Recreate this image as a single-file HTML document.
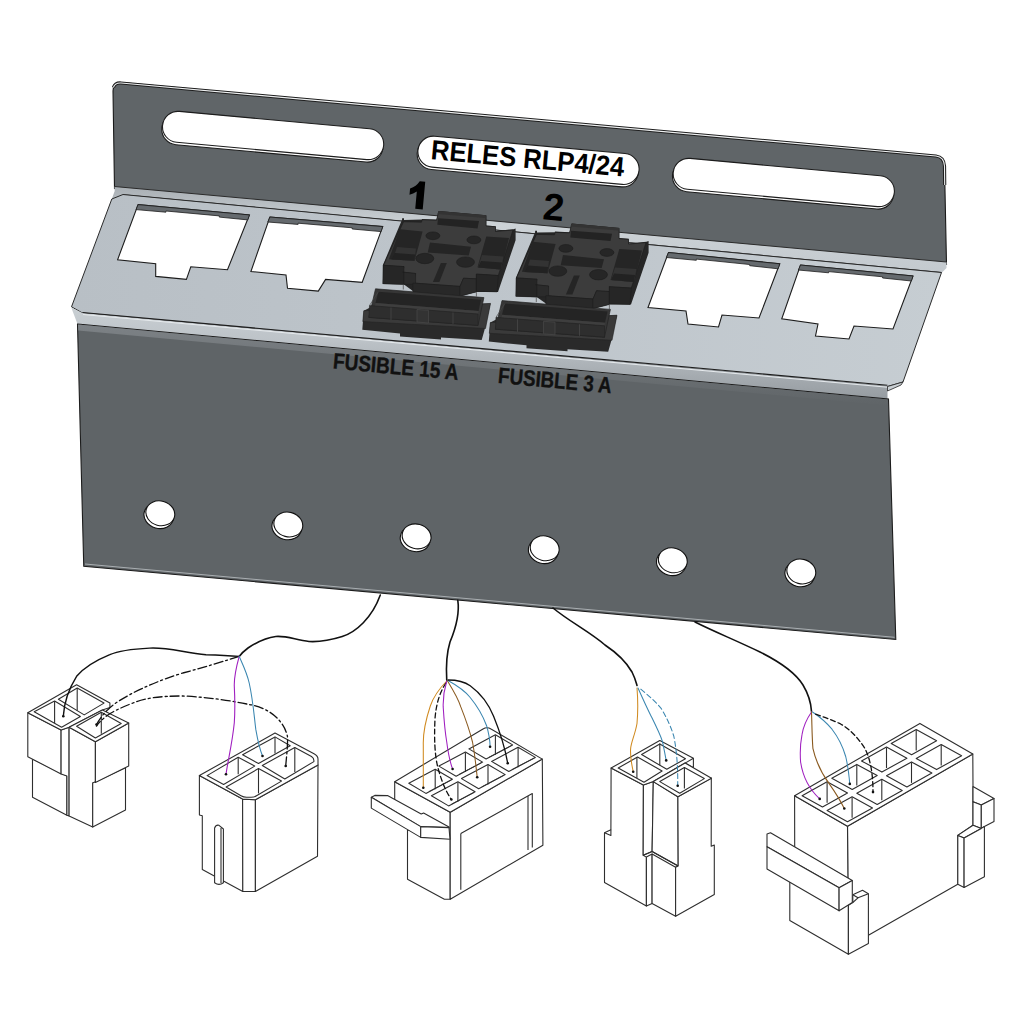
<!DOCTYPE html>
<html><head><meta charset="utf-8">
<style>
html,body{margin:0;padding:0;background:#fff;width:1024px;height:1024px;overflow:hidden}
svg{display:block}
text{font-family:"Liberation Sans",sans-serif;font-weight:bold}
</style></head><body>
<svg width="1024" height="1024" viewBox="0 0 1024 1024">
<defs>
<linearGradient id="shelfg" x1="0" y1="0" x2="1" y2="0"><stop offset="0" stop-color="#b8bfc5"/><stop offset="0.55" stop-color="#bfc6cc"/><stop offset="1" stop-color="#c6cdd2"/></linearGradient>
<linearGradient id="bend1" x1="0" y1="0" x2="0" y2="1"><stop offset="0" stop-color="#a9afb4"/><stop offset="0.45" stop-color="#ccd2d6"/><stop offset="1" stop-color="#c3c9ce"/></linearGradient>
<linearGradient id="bend2" x1="0" y1="0" x2="0" y2="1"><stop offset="0" stop-color="#c9cfd3"/><stop offset="0.35" stop-color="#bdc3c8"/><stop offset="1" stop-color="#969ca1"/></linearGradient>
<linearGradient id="pl2" x1="0" y1="0" x2="0" y2="1"><stop offset="0" stop-color="#7d8286"/><stop offset="1" stop-color="#5f6467"/></linearGradient>
</defs>
<!-- BACK PLATE -->
<g id="back">
<path d="M113,91 Q113,82 121.5,82.6 L936,156 Q944.5,157 944.5,166 L946.5,264.5 L114.5,188.5 Z" fill="#606568" stroke="#1a1a1a" stroke-width="1.1"/>
<path d="M113.4,87.5 Q115,82.6 121,83 L936,156 Q944,157 944.5,166 L944.7,185" stroke="#1e1e1e" stroke-width="3.2" fill="none"/>
<path d="M113.4,87.5 Q115,82.6 121,83 L936,156 Q944,157 944.5,166 L944.7,185" stroke="#eef0f1" stroke-width="1.1" fill="none"/>
<!-- bend strip -->
<path d="M114.5,186.5 L946.5,262 L946.5,268 L941.5,273 L111.8,199 L114.7,191 Z" fill="url(#bend1)"/>
<path d="M123,194.8 L941.5,272.5" stroke="#2a2a2a" stroke-width="1.1" fill="none"/>
<path d="M114.5,186.5 L946.5,262" stroke="#2a2a2a" stroke-width="1" fill="none"/>
<!-- slots -->
<g transform="translate(273.1,135.5) rotate(5.2)"><rect x="-111.5" y="-13" width="222" height="31" rx="15.5" fill="#fff" stroke="#1c1c1c" stroke-width="1.1"/><rect x="-111" y="-15.5" width="222" height="31" rx="15.5" fill="#fff" stroke="#1c1c1c" stroke-width="1.1"/></g>
<g transform="translate(783.8,182.5) rotate(5.2)"><rect x="-111.5" y="-13" width="222" height="31" rx="15.5" fill="#fff" stroke="#1c1c1c" stroke-width="1.1"/><rect x="-111" y="-15.5" width="222" height="31" rx="15.5" fill="#fff" stroke="#1c1c1c" stroke-width="1.1"/></g>
<g transform="translate(528.5,160.3) rotate(5.2)"><rect x="-111.5" y="-13" width="222" height="31" rx="15.5" fill="#fff" stroke="#1c1c1c" stroke-width="1.1"/><rect x="-111" y="-15.5" width="222" height="31" rx="15.5" fill="#fff" stroke="#1c1c1c" stroke-width="1.1"/><text x="-1" y="7.6" font-size="27.5" text-anchor="middle" fill="#000" textLength="194" lengthAdjust="spacingAndGlyphs">RELES RLP4/24</text></g>
<g transform="rotate(5.2 416 195)"><path d="M424,181 L424,208.8 L416.5,208.8 L416.5,191.5 Q413,194.2 409.5,195.3 L409.5,189 Q415.5,186.5 418.5,181 Z" fill="#000"/></g>
<text x="552.5" y="220.3" font-size="38" text-anchor="middle" fill="#000" transform="rotate(5.2 552.5 220.3)">2</text>
</g>
<!-- SHELF -->
<g id="shelf">
<path d="M123,194.5 L941.5,272.5 L903,382 L887.5,386.5 L82.5,313 L71.5,306.8 L111.8,199 Z" fill="url(#shelfg)" stroke="#2a2a2a" stroke-width="1"/>
<!-- RJ holes -->
<path d="M138.1,204.6 L249.4,214.9 L227.5,269.7 L190.8,266.8 L186.4,279.4 L155.7,276.4 L155.7,263.8 L117.6,259.7 Z" fill="#fff" stroke="#1c1c1c" stroke-width="1.1"/>
<path d="M269.9,217 L382.7,226.6 L362.2,282.3 L325.6,279.4 L318.3,291.1 L287.5,288.2 L286,275 L250.9,271.5 Z" fill="#fff" stroke="#1c1c1c" stroke-width="1.1"/>
<path d="M668.5,252.5 L779.75,263.75 L759,318 L722,315 L718.5,327 L688,324 L686,311 L648,307.5 Z" fill="#fff" stroke="#1c1c1c" stroke-width="1.1"/>
<path d="M800.5,265 L913,276 L893,329 L854,326 L849,339 L815.5,336 L818,324 L781.75,318.75 Z" fill="#fff" stroke="#1c1c1c" stroke-width="1.1"/>
<path d="M138.1,204.6 L249.4,214.9 L247.8,219.9 L219.3,217.1 L219.3,215.9 L165.9,211.0 L165.9,212.2 L136.0,209.6 Z" fill="#656a6e" stroke="#1c1c1c" stroke-width="0.8"/>
<path d="M269.9,217.0 L382.7,226.6 L381.1,231.6 L352.2,229.0 L352.2,227.8 L298.1,223.2 L298.1,224.4 L267.8,222.0 Z" fill="#656a6e" stroke="#1c1c1c" stroke-width="0.8"/>
<path d="M668.5,252.5 L779.8,263.8 L778.1,268.8 L749.7,265.7 L749.7,264.5 L696.3,259.1 L696.3,260.3 L666.4,257.5 Z" fill="#656a6e" stroke="#1c1c1c" stroke-width="0.8"/>
<path d="M800.5,265.0 L913.0,276.0 L911.4,281.0 L882.6,278.0 L882.6,276.8 L828.6,271.6 L828.6,272.8 L798.4,270.0 Z" fill="#656a6e" stroke="#1c1c1c" stroke-width="0.8"/>
</g>

<g id="relay1" stroke-linejoin="round">
<path d="M438.7,211 L486.3,215.3 L486.3,225.5 L495.8,226.2 L495.8,231 L513.4,229.2 L515.6,228.4 L515.6,240.2 L498,291.9 L476.4,292 L460,296.5 L412.9,292.3 L412.9,291 L404,284.6 L382.8,284 L382.8,265.3 L402.1,219.6 L402.1,218.2 L404,218.2 L404,220 L421.9,219.6 L421.9,219 L436.5,219.6 Z" fill="#262626"/>
<path d="M403.5,221.8 L421.5,222.2 L422.2,219.8 L436.5,220.3 L438.7,211.5 L486,215.8 L486,226 L495.5,226.8 L495.5,231.5 L513,230 L498.3,275.5 L476.4,274.1 L476.4,278.9 L463.5,278.2 L460,286.4 L412.9,283 L415.6,273.5 L402.6,272.1 L404,266.6 L383.5,265.3 Z" fill="#3c3c3c" stroke="#1c1c1c" stroke-width="0.6"/>
<path d="M438.7,211 L486.3,215.3 L485,218 L437.5,214 Z" fill="#333333"/>
<path d="M438,218.2 L479,221.1 L477.5,228.4 L437.3,224.8 Z" fill="#232323"/>
<path d="M399.9,229.2 L422.6,231.4 L414.5,260.7 L388.9,259.2 Z" fill="#252525"/>
<path d="M397,247 L416,248.5 L414.5,260.7 L393,259.5 Z" fill="#333333"/>
<path d="M395,253 L415,254.5 L414.5,260.7 L391.5,259.5 Z" fill="#222222"/>
<path d="M486.3,236.5 L509,238 L501,269.5 L477.5,267.3 Z" fill="#252525"/>
<path d="M482,255 L503.5,256.5 L501,269.5 L478,267.5 Z" fill="#333333"/>
<path d="M481,261 L502,262.5 L501,269.5 L478,267.5 Z" fill="#222222"/>
<ellipse cx="432.9" cy="235.8" rx="7" ry="3.9" fill="#262626" stroke="#1c1c1c" stroke-width="0.6"/>
<ellipse cx="473.9" cy="239.9" rx="7" ry="3.9" fill="#262626" stroke="#1c1c1c" stroke-width="0.6"/>
<ellipse cx="424.8" cy="258.5" rx="9" ry="5.2" fill="#262626" stroke="#1c1c1c" stroke-width="0.6"/>
<ellipse cx="465.5" cy="262.1" rx="9" ry="5.2" fill="#262626" stroke="#1c1c1c" stroke-width="0.6"/>
<path d="M430,242.4 L471,246.7 L468.7,255.5 L427.7,252.6 Z" fill="#252525"/>
<path d="M440.9,262.9 L446.8,262.9 L439.4,281.9 L432.9,281.9 Z" fill="#252525"/>
<path d="M383.5,265.3 L404,266.6 L404,284.4 L382.8,283.7 Z" fill="#262626" stroke="#1c1c1c" stroke-width="0.5"/>
<path d="M402.6,272.1 L415.6,273.5 L415.6,284 L404,284.4 L404,272.2 Z" fill="#2b2b2b" stroke="#1c1c1c" stroke-width="0.5"/>
<path d="M412.9,283 L460,286.4 L460,296 L412.9,291.9 Z" fill="#282828" stroke="#1c1c1c" stroke-width="0.5"/>
<path d="M463.5,278.2 L476.4,278.9 L476.4,291.9 L460,296 L460,286.4 Z" fill="#2c2c2c" stroke="#1c1c1c" stroke-width="0.5"/>
<path d="M476.4,274.1 L498.3,275.5 L497,291.9 L476.4,291.2 Z" fill="#262626" stroke="#1c1c1c" stroke-width="0.5"/>
<line x1="403.3" y1="284.5" x2="403.3" y2="289.5" stroke="#555" stroke-width="0.8"/>
<line x1="476.4" y1="292" x2="476.4" y2="296.5" stroke="#555" stroke-width="0.8"/>
</g>
<g id="fuse1" stroke-linejoin="round">
<path d="M363.8,310.8 L372,306.5 L490.5,303.4 L484.5,330 L481.7,340 L441,337.5 L441,339.5 L400,336.5 L400,333.5 L362.3,329.8 Z" fill="#2a2a2a"/>
<path d="M363.8,310.8 L490.5,303.4 L485.5,328.5 L362.8,321.5 Z" fill="#3a3a3a" stroke="#232323" stroke-width="0.6"/>
<path d="M375.5,288.8 L483.9,297.6 L478,325.4 L368.9,317.4 Z" fill="#363636" stroke="#222" stroke-width="0.7"/>
<path d="M378.4,291.7 L481,299.8 L478.5,311 L375.5,303 Z" fill="#242424"/>
<path d="M375.5,303 L478.5,311 L478,314 L375,306 Z" fill="#3e3e3e"/>
<path d="M369.5,305.5 L375,306 L478,314 L478,325.4 L368.9,317.4 Z" fill="#2e2e2e" stroke="#222" stroke-width="0.6"/>
<path d="M391,307.5 L391,320 M453,312.5 L453,324" stroke="#474747" stroke-width="0.8" fill="none"/>
<path d="M417,309.5 L428.5,310.3 L428.5,323 L417,322 Z" fill="#333" stroke="#474747" stroke-width="0.7"/>
<path d="M369.5,305.5 L378.4,291.7" stroke="#474747" stroke-width="0.7" fill="none"/>
</g>
<use href="#relay1" transform="translate(133,12.6)"/>
<use href="#fuse1" transform="translate(126.5,11.8)"/>
<!-- FRONT BEND + PLATE -->
<path d="M82.5,313 L887.5,386 L887.5,399 L77.5,324 L71.25,307.5 Z" fill="url(#bend2)"/>
<path d="M83,314.5 L887,387.2" stroke="#e6eaed" stroke-width="1" fill="none"/>
<path d="M82.5,312.5 L887.5,385.2" stroke="#1e1e1e" stroke-width="1.1" fill="none"/>
<path d="M887.5,386.5 L903,382 L901,385 L887.5,391 Z" fill="#c9cfd3" stroke="#222" stroke-width="0.8"/>
<path d="M77.5,324 L888.5,399 L895.8,639.5 L83.75,566.25 Z" fill="#5f6467" stroke="#1c1c1c" stroke-width="1.1"/>
<path d="M78,324.5 L887.5,399.5 L887.7,405.5 L78.3,330.5 Z" fill="url(#pl2)"/>
<g id="holes" fill="#fff" stroke="#111" stroke-width="1.1">
<ellipse cx="158.8" cy="515.8" rx="15" ry="12.6" transform="rotate(15 158.8 515.8)"/>
<ellipse cx="160.3" cy="513.3" rx="14.6" ry="12.3" transform="rotate(15 160.3 513.3)"/>
<ellipse cx="286.8" cy="527" rx="15" ry="12.6" transform="rotate(15 286.8 527)"/>
<ellipse cx="288.3" cy="524.5" rx="14.6" ry="12.3" transform="rotate(15 288.3 524.5)"/>
<ellipse cx="415.1" cy="538.9" rx="15" ry="12.6" transform="rotate(15 415.1 538.9)"/>
<ellipse cx="416.6" cy="536.4" rx="14.6" ry="12.3" transform="rotate(15 416.6 536.4)"/>
<ellipse cx="543.1999999999999" cy="550.8" rx="15" ry="12.6" transform="rotate(15 543.1999999999999 550.8)"/>
<ellipse cx="544.6999999999999" cy="548.3" rx="14.6" ry="12.3" transform="rotate(15 544.6999999999999 548.3)"/>
<ellipse cx="671.3" cy="562.8" rx="15" ry="12.6" transform="rotate(15 671.3 562.8)"/>
<ellipse cx="672.8" cy="560.3" rx="14.6" ry="12.3" transform="rotate(15 672.8 560.3)"/>
<ellipse cx="799.8" cy="574" rx="15" ry="12.6" transform="rotate(15 799.8 574)"/>
<ellipse cx="801.3" cy="571.5" rx="14.6" ry="12.3" transform="rotate(15 801.3 571.5)"/>
</g>
<path d="M85,564 L894.5,637.3" stroke="#d5d9dc" stroke-width="0.8" fill="none" opacity="0.8"/>
<text x="332.5" y="368.5" font-size="22.5" fill="#111" stroke="#111" stroke-width="0.35" textLength="126" lengthAdjust="spacingAndGlyphs" transform="rotate(5.2 332.5 368.5)">FUSIBLE 15 A</text>
<text x="497.5" y="383" font-size="22.5" fill="#111" stroke="#111" stroke-width="0.35" textLength="114" lengthAdjust="spacingAndGlyphs" transform="rotate(5.2 497.5 383)">FUSIBLE 3 A</text>

<!-- CONNECTORS -->
<g fill="#fff" stroke="#2e2e2e" stroke-width="1.1" stroke-linejoin="round">
<path d="M32.5,759.0 L66.9,776.0 L66.9,815.3 L32.5,797.3 Z"/>
<path d="M27.8,712.8 L61.1,730.0 L61.1,774.0 L27.8,756.7 Z"/>
<path d="M61.1,730.0 L69.1,727.3 L69.1,816.0 L66.9,815.3 L66.9,776.0 L61.1,774.0 Z"/>
<path d="M69.1,727.3 L95.4,741.8 L95.4,782.5 L92.7,783.0 L92.7,827.0 L69.1,816.0 Z"/>
<path d="M92.7,783.0 L125.5,767.7 L125.5,810.0 L92.7,827.0 Z"/>
<path d="M95.4,741.8 L128.7,723.0 L128.7,766.0 L95.4,782.5 Z"/>
<path d="M27.8,712.8 L76.6,684.8 L109.9,703.1 L109.9,707.4 L102.4,710.0 L69.1,727.3 L61.1,730.0 Z"/>
<path d="M69.1,727.3 L102.4,710.0 L128.7,723.0 L95.4,741.8 Z"/>
<path d="M34.2,711.7 L54.6,701.0 L80.4,716.5 L61.6,727.3 Z"/>
<path d="M58.4,699.3 L77.2,688.0 L104.0,703.1 L84.2,714.9 Z"/>
<path d="M76.6,726.2 L101.3,712.2 L121.2,723.5 L95.4,738.0 Z"/>
<path d="M54.6,701.0 L54.6,723.0" fill="none"/>
<path d="M77.2,688.0 L77.2,710.6" fill="none"/>
<path d="M101.3,712.5 L101.3,733.7" fill="none"/>
<path d="M199.4,775.6 L242.6,799.1 L242.8,891.5 L202.3,869.5 L202.3,815.8 L199.4,815.0 Z"/>
<path d="M242.6,799.1 L255.4,799.8 L255.4,891.5 L242.8,891.5 Z"/>
<path d="M255.4,799.8 L318.0,764.9 L317.5,856.3 L255.4,891.5 Z"/>
<path d="M199.4,775.6 L275,733.1 L314,753.8 Q318,756 318,759 L318,764.9 L255.4,799.8 L242.6,799.1 Z"/>
<path d="M207.1,775.6 L238.2,757.2 L254.7,766.1 L223.6,784.5 Z"/>
<path d="M242.6,754.7 L275.0,736.9 L290.2,745.8 L258.5,763.5 Z"/>
<path d="M226.1,787 L258.5,768.6 L281.5,781.1 L256.5,795.8 Q254.5,797.3 251,797.3 L246.5,797.3 Q243.5,797.3 241,795.8 Z"/>
<path d="M262.3,765.5 L294.8,747.5 L311.5,756.5 Q313.9,758 313.9,760.5 L313.9,761.6 L284.8,779 Z"/>
<path d="M238.2,757.2 L238.2,774.3" fill="none"/>
<path d="M275.0,737.5 L275.0,753.4" fill="none"/>
<path d="M258.5,768.6 L258.5,793.4" fill="none"/>
<path d="M294.8,747.5 L294.8,772.0" fill="none"/>
<path d="M214.6,882.7 L214.6,828 Q216,824.5 219,825.3 L223.4,829 L223.4,882.7 Q219,886 214.6,882.7 Z"/>
<path d="M221.0,828.0 L221.0,883.0" fill="none"/>
<path d="M407.5,830.0 L450.2,836.0 L450.2,899.2 L444.4,899.2 L407.5,879.2 Z"/>
<path d="M394.7,781.7 L450.2,812.2 L450.2,836.0 L394.7,805.0 Z"/>
<path d="M450.2,812.2 L542.3,759.1 L542.9,845.2 L450.2,899.2 Z"/>
<path d="M460.8,833.5 L532.3,793.6 L532.3,847.6" fill="none"/>
<path d="M460.8,833.5 L460.8,889.8" fill="none"/>
<path d="M528.0,796.0 L528.0,850.0" fill="none"/>
<path d="M394.7,781.7 L483,729 Q487,726.5 491,729 L542.3,759.1 L450.2,812.2 Z"/>
<path d="M408.8,783.3 L435.2,769.2 L452.4,779.3 L425.9,793.4 Z"/>
<path d="M435.2,769.7 L435.2,789.2" fill="none"/>
<path d="M428.9,791.6 L451.4,779.9" fill="none" stroke-width="0.8"/>
<path d="M431.4,795.8 L457.9,781.7 L475.1,791.8 L448.6,805.9 Z"/>
<path d="M457.9,782.2 L457.9,801.7" fill="none"/>
<path d="M451.6,804.1 L474.1,792.4" fill="none" stroke-width="0.8"/>
<path d="M438.9,766.1 L465.4,752.0 L482.6,762.1 L456.1,776.2 Z"/>
<path d="M465.4,752.5 L465.4,772.0" fill="none"/>
<path d="M459.1,774.4 L481.6,762.7" fill="none" stroke-width="0.8"/>
<path d="M461.5,778.6 L488.0,764.5 L505.2,774.6 L478.7,788.7 Z"/>
<path d="M488.0,765.0 L488.0,784.5" fill="none"/>
<path d="M481.7,786.9 L504.2,775.2" fill="none" stroke-width="0.8"/>
<path d="M468.9,748.9 L495.4,734.8 L512.6,744.9 L486.1,759.0 Z"/>
<path d="M495.4,735.3 L495.4,754.8" fill="none"/>
<path d="M489.1,757.2 L511.6,745.5" fill="none" stroke-width="0.8"/>
<path d="M491.6,761.4 L518.1,747.3 L535.3,757.4 L508.8,771.5 Z"/>
<path d="M518.1,747.8 L518.1,767.3" fill="none"/>
<path d="M511.8,769.7 L534.3,758.0" fill="none" stroke-width="0.8"/>
<path d="M371.3,797.3 L374.8,795.4 L387.5,795.6 L421.2,814.0 L423.6,813.0 L449.0,827.1 L449.0,827.6 L420.7,826.6 Z"/>
<path d="M371.3,797.3 L420.7,826.6 L420.7,837.4 L371.3,808.1 Z"/>
<path d="M420.7,826.6 L449.0,827.6 L450.0,839.3 L420.7,837.4 Z"/>
<path d="M611.1,768.1 L643.4,785.1 L643.2,855.2 L646.4,857.1 L646.4,906.0 L604.5,882.5 L604.5,832.8 L610.9,829.8 Z"/>
<path d="M604.5,832.8 L610.9,835.5 L610.9,829.8" fill="none"/>
<path d="M643.4,785.1 L653.3,781.6 L652.1,851.4 L643.2,855.2 Z"/>
<path d="M646.4,857.1 L652.1,854.0 L652.1,903.5 L646.4,906.0 Z"/>
<path d="M653.3,781.6 L677.9,796.8 L678.2,866.0 L652.1,851.4 Z"/>
<path d="M652.1,854.0 L675.6,867.3 L675.6,916.2 L652.1,903.5 Z"/>
<path d="M643.2,855.2 L652.1,851.4 L678.2,866.0 L675.6,867.3" fill="none"/>
<path d="M677.9,796.8 L711.3,778.0 L711.2,846.3 L714.3,845.0 L714.3,894.6 L675.6,916.2 L675.6,867.3 L678.2,866.0 Z"/>
<path d="M611.1,768.1 L659.8,740.5 L693.4,758.2 L693.4,767.8 L685.1,763.1 L653.3,781.6 L643.4,785.1 Z"/>
<path d="M685.1,763.1 L693.4,758.2" fill="none"/>
<path d="M653.3,781.6 L685.1,763.1 L711.5,778.2 L677.9,796.8 Z"/>
<path d="M618.2,768.1 L637.5,757.0 L662.1,771.0 L644.0,782.2 Z"/>
<path d="M641.6,754.6 L659.8,744.1 L685.5,758.7 L666.8,769.3 Z"/>
<path d="M659.8,781.6 L684.4,767.5 L704.3,778.6 L679.7,793.3 Z"/>
<path d="M636.9,757.0 L636.9,778.0" fill="none"/>
<path d="M659.8,743.5 L659.8,765.2" fill="none"/>
<path d="M684.4,767.5 L684.4,788.6" fill="none"/>
<path d="M847.5,826.3 L972.8,754.0 L973.0,786.5 L973.0,825.2 L957.8,835.4 L957.8,884.3 L868.4,935.2 L848.4,946.0 L847.9,890.0 Z"/>
<path d="M794.6,795.7 L847.5,826.3 L847.9,878.4 L794.7,848.0 Z"/>
<path d="M794.6,795.7 L919.9,723.4 L972.8,754.0 L847.5,826.3 Z"/>
<path d="M802.1,795.7 L827.1,781.8 L847.5,793.0 L822.5,806.9 Z"/>
<path d="M827.1,782.3 L827.1,802.8" fill="none"/>
<path d="M827.1,810.6 L852.1,796.7 L872.5,807.9 L847.5,821.8 Z"/>
<path d="M852.1,797.2 L852.1,817.7" fill="none"/>
<path d="M831.8,778.3 L856.8,764.4 L877.2,775.6 L852.2,789.5 Z"/>
<path d="M856.8,764.9 L856.8,785.4" fill="none"/>
<path d="M856.8,793.2 L881.8,779.3 L902.2,790.5 L877.2,804.4 Z"/>
<path d="M881.8,779.8 L881.8,800.3" fill="none"/>
<path d="M861.5,760.9 L886.5,747.0 L906.9,758.2 L881.9,772.1 Z"/>
<path d="M886.5,747.5 L886.5,768.0" fill="none"/>
<path d="M886.5,775.8 L911.5,761.9 L931.9,773.1 L906.9,787.0 Z"/>
<path d="M911.5,762.4 L911.5,782.9" fill="none"/>
<path d="M891.2,743.5 L916.2,729.6 L936.6,740.8 L911.6,754.7 Z"/>
<path d="M916.2,730.1 L916.2,750.6" fill="none"/>
<path d="M916.2,758.4 L941.2,744.5 L961.6,755.7 L936.6,769.6 Z"/>
<path d="M941.2,745.0 L941.2,765.5" fill="none"/>
<path d="M973.0,786.5 L994.0,798.6 L981.3,804.9 L973.0,801.7 Z"/>
<path d="M973.0,801.7 L981.3,804.9 L981.3,828.4 L973.0,825.2 Z"/>
<path d="M981.3,804.9 L994.0,798.6 L994.0,821.4 L984.4,826.5 L981.3,828.4 Z"/>
<path d="M973.0,825.2 L981.3,828.4 L964.1,838.0 L957.8,835.4 Z"/>
<path d="M957.8,835.4 L964.1,838.0 L964.1,887.5 L957.8,884.3 Z"/>
<path d="M964.1,838.0 L981.3,828.4 L984.4,826.5 L984.4,876.7 L964.1,887.5 Z"/>
<path d="M789.8,875.0 L848.4,905.4 L848.4,954.2 L789.8,920.5 Z"/>
<path d="M848.4,905.4 L852.8,902.5 L852.8,894.7 L862.5,890.3 L868.4,893.7 L868.4,943.5 L848.4,954.2 Z"/>
<path d="M852.8,894.7 L858.0,897.8 L868.4,893.7" fill="none"/>
<path d="M858.0,897.8 L852.8,902.5" fill="none"/>
<path d="M767.0,833.9 L770.5,832.7 L852.3,880.5 L839.1,887.8 L767.0,846.8 Z"/>
<path d="M767.0,846.8 L839.1,887.8 L839.1,910.8 L767.0,869.0 Z"/>
<path d="M839.1,887.8 L852.3,880.5 L852.3,902.5 L839.1,910.8 Z"/>
</g>
<!-- WIRES -->
<g fill="none" stroke-linecap="round" stroke-linejoin="round">
<path d="M380.3,595 C372,618 356,632 342.2,636.5 C328,641 318,642 309,641.5 C296,640 286,635.5 275.8,636.5 C264,638 254,644 248,648 C244,651 241,654 239.2,656.4" stroke="#111" stroke-width="1.6"/>
<path d="M239.2,656.4 C228,655.5 216,655 206,654.7 C185,653 168,647 149.6,648.1 C132,649 118,651 109.8,654.7 C92,662 82,670 76.6,676.3 C68,690 64,704 63.3,716.2" stroke="#111" stroke-width="1.4"/>
<path d="M239.2,656.4 C215,664 198,669 182.8,673 C160,680 145,687 133,692.9 C122,699 113,704 108.1,709.5 C103,714 99,720 96.5,724.5" stroke="#111" stroke-width="1.3" stroke-dasharray="9,3,2,3"/>
<path d="M285.7,766 C287,752 288,742 287.4,736 C283,718 266,707 249.2,704.5 C228,700 205,697 182.8,696 C160,696 145,698 133,703 C120,708 112,712 106.4,716 C102,720 98,723 96.5,726.1" stroke="#111" stroke-width="1.3" stroke-dasharray="9,3,2,3"/>
<path d="M239.2,656.4 C236,668 234,678 234.3,686.3 C235,700 235,712 234.3,722.8 C232,745 228,760 226,774.3" stroke="#a020c0" stroke-width="1.1"/>
<path d="M239.2,656.4 C243,665 247,673 249.2,683 C253,700 254,715 255.8,729.4 C258,742 260,750 262.5,756" stroke="#3a86b0" stroke-width="1.05"/>
<!-- C -->
<path d="M457.8,600.3 C460,615 455,630 450,642 C446,655 446,668 446.75,680.5" stroke="#111" stroke-width="1.6"/>
<path d="M446.75,681 C438,690 433,698 430.3,706 C425,722 423,735 423.3,745 L423.3,787.8" stroke="#d08a20" stroke-width="1.05"/>
<path d="M446,683 C439,693 436,706 435,718.6 C434,740 435,755 437.4,765.5 C441,780 446,792 451.4,799.5" stroke="#111" stroke-width="1.3" stroke-dasharray="5,3"/>
<path d="M446.75,681 C444,690 443,700 443.2,706.9 C444,720 445,732 446.75,742 C448,752 450,762 452.6,769" stroke="#a020c0" stroke-width="1.05"/>
<path d="M447.5,681 C453,690 458,698 460.8,706.9 C466,720 470,732 472.5,742 C475,755 476,767 477.2,777.2" stroke="#8a5a20" stroke-width="1.05"/>
<path d="M448,680.5 C458,686 465,691 470.2,697.5 C478,707 483,716 486.6,725.7 C489,734 490,741 490.1,746.8" stroke="#3a86b0" stroke-width="1.05"/>
<path d="M448,680 C458,680 465,682 470.2,685.8 C480,693 489,705 493.6,716.3 C500,732 505,748 507.7,763.2" stroke="#111" stroke-width="1.3"/>
<!-- D -->
<path d="M553,608 C570,622 590,632 605,645 C620,655 628,665 632,672 C635,678 636,682 637,685.4" stroke="#111" stroke-width="1.6"/>
<path d="M637,688 C638,700 638,712 637,723.5 C635,735 631,742 630.6,749 C630,758 632,765 633.2,771.8" stroke="#d08a20" stroke-width="1.05"/>
<path d="M638,688 C642,697 646,706 651,715.9 C656,726 660,734 662.4,741.3 C664,748 665,755 666.2,760.4" stroke="#3a86b0" stroke-width="1.05"/>
<path d="M640.8,689.2 C648,695 655,701 661.1,708.3 C667,718 671,727 673.8,736.2 C677,752 678,770 677.7,785.8" stroke="#3a86b0" stroke-width="1.05" stroke-dasharray="5,3"/>
<!-- E -->
<path d="M695,622 C715,632 735,640 760,652 C780,662 795,672 803,685 C809,695 811,703 811.5,711.4" stroke="#111" stroke-width="1.6"/>
<path d="M811.5,712 C806,720 803,728 802,734.7 C800,745 800,754 800.6,762 C803,778 810,790 819.7,798.9" stroke="#a020c0" stroke-width="1.05"/>
<path d="M811.5,712 C812,725 812,737 812.9,748.3 C816,762 822,774 829.3,783.9 C835,792 840,800 844.3,808.5" stroke="#8a5a20" stroke-width="1.1"/>
<path d="M812.5,712 C820,717 826,722 832,729.2 C838,737 843,747 845.7,756.5 C848,766 849,775 849.8,783.9" stroke="#3a86b0" stroke-width="1.05"/>
<path d="M815.6,714.2 C824,717 832,720 840.2,723.7 C851,730 858,738 864.8,748.3 C871,760 873,776 873,792.1" stroke="#111" stroke-width="1.3" stroke-dasharray="5,3"/>
</g>
<g fill="#111"><circle cx="63.3" cy="716.2" r="1.3"/><circle cx="96.5" cy="724.5" r="1.3"/><circle cx="226" cy="774.3" r="1.3"/><circle cx="262.5" cy="756" r="1.3"/><circle cx="285.7" cy="766" r="1.3"/><circle cx="423.3" cy="787.8" r="1.3"/><circle cx="451.4" cy="799.5" r="1.3"/><circle cx="452.6" cy="769" r="1.3"/><circle cx="477.2" cy="777.2" r="1.3"/><circle cx="490.1" cy="746.8" r="1.3"/><circle cx="507.7" cy="763.2" r="1.3"/><circle cx="633.2" cy="771.8" r="1.3"/><circle cx="666.2" cy="760.4" r="1.3"/><circle cx="677.7" cy="785.8" r="1.3"/><circle cx="819.7" cy="798.9" r="1.3"/><circle cx="844.3" cy="808.5" r="1.3"/><circle cx="849.8" cy="783.9" r="1.3"/><circle cx="873" cy="792.1" r="1.3"/></g>
</svg>
</body></html>
